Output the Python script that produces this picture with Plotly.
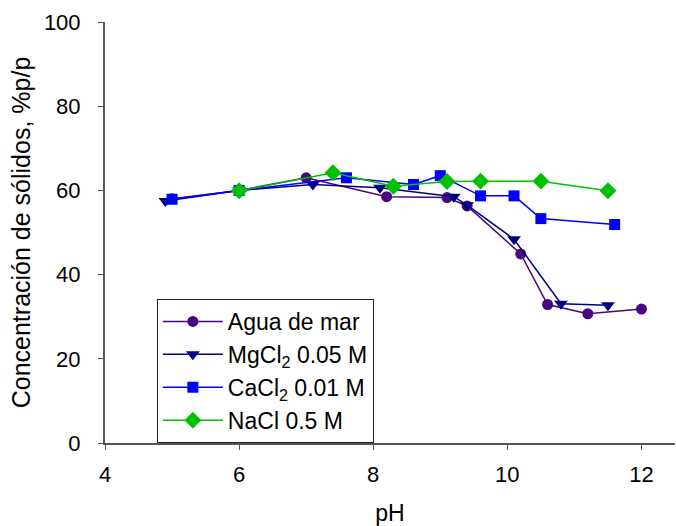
import plotly.graph_objects as go

agua_x = [5.0, 6.0, 7.0, 8.2, 9.1, 9.4, 10.2, 10.6, 11.2, 12.0]
agua_y = [58.0, 60.0, 63.0, 58.5, 58.3, 56.3, 44.9, 32.9, 30.7, 31.8]

mg_x = [4.9, 6.0, 7.1, 8.1, 9.2, 9.4, 10.1, 10.8, 11.5]
mg_y = [57.5, 60.0, 61.4, 60.6, 58.5, 56.5, 48.4, 33.1, 32.7]

ca_x = [5.0, 6.0, 7.6, 8.6, 9.0, 9.6, 10.1, 10.5, 11.6]
ca_y = [57.9, 60.0, 63.0, 61.4, 63.5, 58.7, 58.7, 53.3, 51.9]

na_x = [6.0, 7.4, 8.3, 9.1, 9.6, 10.5, 11.5]
na_y = [59.9, 64.2, 61.0, 62.1, 62.2, 62.2, 59.9]

names = ["Agua de mar", "MgCl<sub>2</sub> 0.05 M", "CaCl<sub>2</sub> 0.01 M", "NaCl 0.5 M"]
colors = ["#48077F", "#000080", "#0000FF", "#00C000"]
symbols = ["circle", "triangle-down", "square", "diamond"]
sizes = [11, 12, 11, 13]

xs = [agua_x, mg_x, ca_x, na_x]
ys = [agua_y, mg_y, ca_y, na_y]

fig = go.Figure()
for x, y, n, c, s, sz in zip(xs, ys, names, colors, symbols, sizes):
    fig.add_trace(go.Scatter(
        x=x, y=y, name=n, mode="lines+markers",
        line=dict(color=c, width=1.5),
        marker=dict(color=c, symbol=s, size=sz, line=dict(width=0)),
    ))

font = "Liberation Sans, Arial, sans-serif"
fig.update_layout(
    width=676, height=526,
    margin=dict(l=105, r=1, t=22, b=83),
    paper_bgcolor="white", plot_bgcolor="white",
    font=dict(family=font, size=22, color="black"),
    showlegend=True,
    legend=dict(
        x=0.091, y=0, xanchor="left", yanchor="bottom",
        bordercolor="#222222", borderwidth=1, bgcolor="white",
        font=dict(family=font, size=23, color="black"),
        tracegroupgap=0, itemwidth=60,
    ),
    xaxis=dict(
        range=[4, 12.5], tickvals=[4, 6, 8, 10, 12],
        showgrid=False, zeroline=False,
        showline=True, linecolor="#555555", linewidth=2,
        ticks="outside", ticklen=5, tickcolor="#555555",
        tickfont=dict(size=22), ticklabelstandoff=6,
        title=dict(text="pH", font=dict(size=23), standoff=20),
    ),
    yaxis=dict(
        range=[0, 100], tickvals=[0, 20, 40, 60, 80, 100],
        showgrid=False, zeroline=False,
        showline=True, linecolor="#555555", linewidth=2,
        ticks="outside", ticklen=5, tickcolor="#555555",
        tickfont=dict(size=22), ticklabelstandoff=13,
        title=dict(text="Concentración de sólidos, %p/p", font=dict(size=25), standoff=6),
    ),
)

fig.write_html("out.html")
